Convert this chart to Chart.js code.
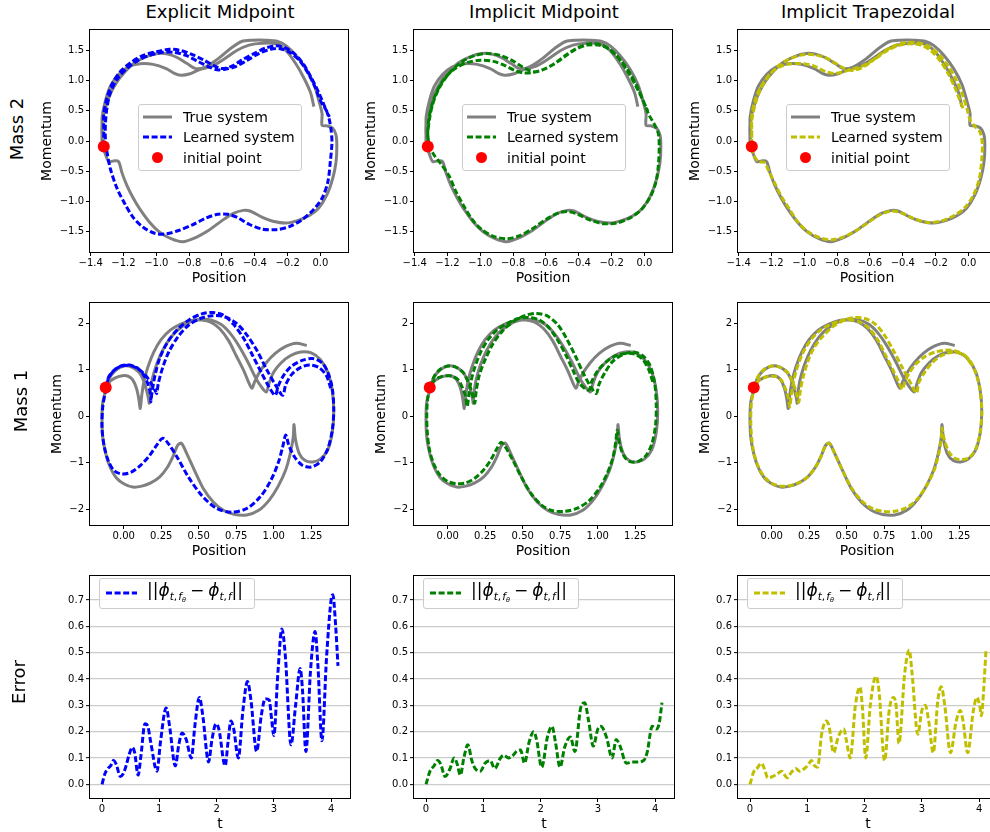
<!DOCTYPE html>
<html><head><meta charset="utf-8">
<script src="https://cdn.jsdelivr.net/npm/chart.js@4.4.0/dist/chart.umd.min.js"></script>
<style>
html,body{margin:0;padding:0;width:990px;height:832px;overflow:hidden;background:#fff;font-family:"DejaVu Sans",sans-serif;color:#000;}
canvas{position:absolute;}
.coltitle{position:absolute;top:3px;font-size:18px;line-height:18px;width:260px;text-align:center;white-space:nowrap;}
.rowlabel{position:absolute;font-size:18px;line-height:18px;white-space:nowrap;transform:translate(-50%,-50%) rotate(-90deg);}
.legend{position:absolute;background:rgba(255,255,255,0.8);border:1px solid #cccccc;border-radius:3px;box-sizing:border-box;font-size:14px;z-index:5;}
.legend .h{position:absolute;left:4px;}
.legend .t{position:absolute;left:44px;line-height:16px;white-space:nowrap;}
.legend .dot{position:absolute;width:11px;height:11px;border-radius:50%;background:#ff0000;}
.m{font-size:17px;}
.m sub{font-size:0.62em;vertical-align:baseline;position:relative;top:0.35em;}
.m .op{padding:0 4px;}
.m .cm{padding-right:1px;}
</style></head>
<body>
<script>
// ---------------- DATA ----------------
const columnTitles = ["Explicit Midpoint", "Implicit Midpoint", "Implicit Trapezoidal"];
const rowLabels = ["Mass 2", "Mass 1", "Error"];
const seriesLabels = ["True system", "Learned system", "initial point"];

const mass2PositionTicks = [-1.4, -1.2, -1.0, -0.8, -0.6, -0.4, -0.2, 0.0];
const mass2MomentumTicks = [-1.5, -1.0, -0.5, 0.0, 0.5, 1.0, 1.5];
const mass1PositionTicks = [0.00, 0.25, 0.50, 0.75, 1.00, 1.25];
const mass1MomentumTicks = [-2, -1, 0, 1, 2];
const timeTicks = [0, 1, 2, 3, 4];
const errorTicks = [0.0, 0.1, 0.2, 0.3, 0.4, 0.5, 0.6, 0.7];

const mass2Initial = [[-1.32, -0.09]];
const mass1Initial = [[-0.12, 0.62]];

const mass2True = [[-1.32,-0.09],[-1.33,0.05],[-1.33,0.30],[-1.31,0.55],[-1.28,0.78],[-1.24,0.98],[-1.19,1.15],[-1.13,1.30],[-1.06,1.40],[-0.99,1.45],[-0.93,1.44],[-0.87,1.38],[-0.81,1.28],[-0.76,1.20],[-0.70,1.23],[-0.62,1.37],[-0.54,1.55],[-0.48,1.65],[-0.415,1.67],[-0.33,1.67],[-0.26,1.65],[-0.21,1.58],[-0.15,1.42],[-0.09,1.20],[-0.04,0.94],[-0.01,0.67],[0.01,0.45],[0.01,0.26],[0.04,0.25],[0.075,0.21],[0.095,0.10],[0.10,-0.09],[0.095,-0.35],[0.075,-0.62],[0.04,-0.89],[-0.01,-1.11],[-0.07,-1.24],[-0.14,-1.32],[-0.21,-1.36],[-0.29,-1.33],[-0.35,-1.27],[-0.43,-1.16],[-0.47,-1.15],[-0.53,-1.20],[-0.60,-1.32],[-0.68,-1.48],[-0.76,-1.60],[-0.84,-1.67],[-0.91,-1.62],[-0.98,-1.51],[-1.04,-1.35],[-1.10,-1.13],[-1.14,-0.95],[-1.18,-0.73],[-1.21,-0.52],[-1.23,-0.34],[-1.26,-0.33],[-1.29,-0.34],[-1.31,-0.22],[-1.33,-0.03],[-1.33,0.18],[-1.33,0.40],[-1.31,0.67],[-1.28,0.91],[-1.23,1.10],[-1.17,1.23],[-1.10,1.28],[-1.02,1.27],[-0.94,1.20],[-0.89,1.12],[-0.85,1.09],[-0.80,1.11],[-0.74,1.18],[-0.66,1.24],[-0.58,1.37],[-0.51,1.50],[-0.435,1.59],[-0.355,1.62],[-0.27,1.61],[-0.21,1.50],[-0.15,1.28],[-0.10,1.04],[-0.06,0.80],[-0.04,0.57]];

const mass2Explicit = [[-1.32,-0.09],[-1.32,0.18],[-1.32,0.45],[-1.30,0.72],[-1.27,0.94],[-1.22,1.15],[-1.15,1.31],[-1.08,1.42],[-1.00,1.48],[-0.92,1.52],[-0.85,1.50],[-0.78,1.43],[-0.71,1.34],[-0.65,1.25],[-0.60,1.20],[-0.54,1.24],[-0.48,1.34],[-0.405,1.45],[-0.335,1.54],[-0.27,1.58],[-0.22,1.55],[-0.16,1.45],[-0.10,1.26],[-0.05,1.02],[-0.01,0.80],[0.02,0.61],[0.05,0.40],[0.065,0.18],[0.07,-0.03],[0.06,-0.35],[0.045,-0.68],[0.01,-0.95],[-0.04,-1.13],[-0.11,-1.30],[-0.19,-1.42],[-0.27,-1.47],[-0.355,-1.46],[-0.435,-1.38],[-0.505,-1.27],[-0.565,-1.215],[-0.625,-1.215],[-0.70,-1.28],[-0.78,-1.39],[-0.86,-1.48],[-0.94,-1.54],[-1.01,-1.53],[-1.08,-1.43],[-1.14,-1.27],[-1.19,-1.05],[-1.24,-0.78],[-1.28,-0.46],[-1.30,-0.19],[-1.31,0.02],[-1.31,0.29],[-1.30,0.56],[-1.28,0.80],[-1.24,1.02],[-1.18,1.20],[-1.11,1.34],[-1.04,1.42],[-0.96,1.47],[-0.89,1.47],[-0.82,1.42],[-0.74,1.31],[-0.68,1.23],[-0.63,1.18],[-0.58,1.19],[-0.52,1.23],[-0.445,1.34],[-0.375,1.45],[-0.305,1.52],[-0.245,1.53],[-0.18,1.46],[-0.12,1.31],[-0.07,1.10],[-0.03,0.88],[0.0,0.67],[0.035,0.51],[0.055,0.40]];

const mass2ImplicitMid = [[-1.32,-0.09],[-1.32,0.12],[-1.31,0.36],[-1.29,0.61],[-1.25,0.88],[-1.19,1.12],[-1.12,1.30],[-1.04,1.41],[-0.96,1.45],[-0.88,1.42],[-0.81,1.34],[-0.75,1.24],[-0.70,1.17],[-0.66,1.15],[-0.61,1.19],[-0.55,1.28],[-0.48,1.42],[-0.41,1.54],[-0.34,1.61],[-0.27,1.60],[-0.21,1.52],[-0.15,1.36],[-0.09,1.13],[-0.04,0.88],[0.0,0.62],[0.03,0.42],[0.06,0.28],[0.085,0.12],[0.09,-0.10],[0.085,-0.40],[0.07,-0.68],[0.035,-0.93],[-0.02,-1.14],[-0.09,-1.28],[-0.17,-1.36],[-0.25,-1.37],[-0.33,-1.31],[-0.41,-1.21],[-0.47,-1.17],[-0.53,-1.20],[-0.60,-1.30],[-0.68,-1.45],[-0.76,-1.57],[-0.84,-1.62],[-0.92,-1.58],[-0.99,-1.47],[-1.05,-1.30],[-1.10,-1.08],[-1.15,-0.83],[-1.19,-0.58],[-1.24,-0.38],[-1.28,-0.24],[-1.31,-0.08],[-1.32,0.15],[-1.31,0.42],[-1.28,0.72],[-1.23,0.99],[-1.16,1.19],[-1.08,1.30],[-1.00,1.34],[-0.92,1.32],[-0.85,1.25],[-0.79,1.17],[-0.74,1.13],[-0.69,1.13],[-0.63,1.17],[-0.56,1.26],[-0.49,1.39],[-0.42,1.52],[-0.35,1.59],[-0.28,1.59],[-0.22,1.53],[-0.16,1.38],[-0.10,1.14],[-0.05,0.90],[-0.01,0.68],[0.02,0.50]];

const mass2ImplicitTrap = [[-1.32,-0.09],[-1.32,0.10],[-1.32,0.34],[-1.30,0.60],[-1.27,0.84],[-1.22,1.06],[-1.16,1.24],[-1.09,1.36],[-1.01,1.43],[-0.94,1.43],[-0.87,1.38],[-0.81,1.29],[-0.76,1.21],[-0.71,1.17],[-0.66,1.20],[-0.60,1.30],[-0.53,1.45],[-0.46,1.57],[-0.39,1.63],[-0.32,1.63],[-0.25,1.58],[-0.19,1.46],[-0.13,1.27],[-0.08,1.04],[-0.04,0.80],[-0.01,0.55],[0.01,0.35],[0.04,0.24],[0.07,0.15],[0.085,-0.05],[0.08,-0.35],[0.065,-0.64],[0.03,-0.90],[-0.02,-1.10],[-0.09,-1.24],[-0.17,-1.33],[-0.25,-1.35],[-0.33,-1.29],[-0.41,-1.19],[-0.47,-1.16],[-0.53,-1.21],[-0.60,-1.33],[-0.68,-1.48],[-0.76,-1.59],[-0.84,-1.64],[-0.91,-1.60],[-0.98,-1.50],[-1.04,-1.34],[-1.09,-1.13],[-1.14,-0.92],[-1.18,-0.70],[-1.22,-0.48],[-1.24,-0.36],[-1.28,-0.34],[-1.31,-0.22],[-1.32,-0.05],[-1.32,0.18],[-1.32,0.42],[-1.30,0.68],[-1.26,0.92],[-1.21,1.11],[-1.15,1.23],[-1.08,1.28],[-1.00,1.28],[-0.93,1.23],[-0.87,1.15],[-0.82,1.12],[-0.77,1.14],[-0.71,1.19],[-0.64,1.25],[-0.57,1.36],[-0.50,1.49],[-0.43,1.58],[-0.36,1.61],[-0.29,1.59],[-0.23,1.50],[-0.17,1.32],[-0.12,1.10],[-0.08,0.87],[-0.05,0.66],[-0.03,0.52]];

const mass1True = [[-0.12,0.62],[-0.09,0.85],[-0.05,1.00],[0.00,1.08],[0.05,1.06],[0.10,0.95],[0.13,0.78],[0.15,0.58],[0.165,0.38],[0.17,0.28],[0.175,0.50],[0.19,0.80],[0.22,1.12],[0.26,1.42],[0.31,1.68],[0.37,1.88],[0.44,2.02],[0.51,2.08],[0.58,2.07],[0.65,1.97],[0.71,1.78],[0.77,1.50],[0.83,1.15],[0.88,0.82],[0.92,0.62],[0.95,0.52],[0.97,0.72],[1.00,0.95],[1.05,1.15],[1.11,1.30],[1.18,1.38],[1.25,1.36],[1.31,1.22],[1.36,0.95],[1.39,0.55],[1.40,0.10],[1.39,-0.35],[1.36,-0.72],[1.31,-0.92],[1.26,-0.98],[1.21,-0.95],[1.17,-0.80],[1.145,-0.50],[1.135,-0.18],[1.13,-0.45],[1.11,-0.80],[1.08,-1.15],[1.03,-1.50],[0.97,-1.80],[0.90,-2.02],[0.82,-2.12],[0.74,-2.11],[0.67,-2.03],[0.60,-1.85],[0.53,-1.55],[0.47,-1.15],[0.42,-0.80],[0.385,-0.58],[0.36,-0.62],[0.33,-0.85],[0.29,-1.10],[0.24,-1.30],[0.18,-1.43],[0.12,-1.50],[0.06,-1.52],[0.00,-1.45],[-0.05,-1.32],[-0.09,-1.10],[-0.12,-0.80],[-0.14,-0.45],[-0.145,-0.05],[-0.14,0.30],[-0.12,0.55],[-0.10,0.72],[-0.06,0.82],[-0.01,0.87],[0.03,0.86],[0.06,0.78],[0.085,0.60],[0.10,0.38],[0.11,0.17],[0.12,0.45],[0.135,0.75],[0.16,1.05],[0.20,1.38],[0.25,1.65],[0.31,1.85],[0.38,1.98],[0.45,2.06],[0.52,2.07],[0.58,2.02],[0.64,1.88],[0.70,1.62],[0.75,1.30],[0.80,0.98],[0.83,0.75],[0.855,0.60],[0.87,0.72],[0.90,0.92],[0.95,1.15],[1.01,1.35],[1.08,1.50],[1.15,1.57],[1.22,1.52]];

const mass1Explicit = [[-0.12,0.62],[-0.10,0.85],[-0.06,1.00],[-0.01,1.09],[0.04,1.10],[0.09,1.04],[0.13,0.90],[0.16,0.70],[0.18,0.45],[0.18,0.31],[0.19,0.55],[0.21,0.90],[0.24,1.25],[0.29,1.58],[0.36,1.87],[0.44,2.08],[0.52,2.20],[0.59,2.23],[0.66,2.18],[0.73,1.98],[0.80,1.67],[0.86,1.30],[0.92,0.92],[0.97,0.62],[1.01,0.45],[1.03,0.65],[1.07,0.90],[1.12,1.08],[1.19,1.20],[1.26,1.24],[1.32,1.15],[1.36,0.95],[1.39,0.60],[1.40,0.15],[1.39,-0.30],[1.36,-0.70],[1.31,-0.98],[1.25,-1.09],[1.19,-1.05],[1.14,-0.88],[1.10,-0.62],[1.08,-0.40],[1.06,-0.65],[1.03,-1.00],[0.98,-1.38],[0.91,-1.73],[0.82,-1.98],[0.72,-2.06],[0.62,-1.98],[0.52,-1.70],[0.43,-1.30],[0.36,-0.90],[0.30,-0.60],[0.26,-0.47],[0.22,-0.62],[0.17,-0.85],[0.11,-1.06],[0.05,-1.20],[-0.01,-1.24],[-0.06,-1.18],[-0.10,-0.98],[-0.13,-0.65],[-0.145,-0.25],[-0.14,0.20],[-0.12,0.55],[-0.10,0.83],[-0.06,1.00],[-0.01,1.08],[0.04,1.09],[0.09,1.03],[0.14,0.90],[0.18,0.72],[0.21,0.55],[0.22,0.49],[0.23,0.70],[0.26,1.05],[0.30,1.38],[0.36,1.70],[0.43,1.95],[0.51,2.10],[0.59,2.16],[0.67,2.14],[0.75,2.00],[0.82,1.75],[0.89,1.40],[0.95,1.02],[1.01,0.68],[1.06,0.45],[1.08,0.68],[1.12,0.90],[1.18,1.05],[1.24,1.10],[1.30,1.05],[1.35,0.88],[1.38,0.60]];

const mass1ImplicitMid = [[-0.12,0.62],[-0.09,0.86],[-0.05,1.01],[0.00,1.08],[0.05,1.06],[0.10,0.95],[0.13,0.78],[0.155,0.58],[0.17,0.40],[0.18,0.28],[0.19,0.55],[0.21,0.88],[0.25,1.22],[0.30,1.55],[0.37,1.85],[0.45,2.06],[0.52,2.17],[0.59,2.21],[0.66,2.16],[0.73,1.98],[0.79,1.68],[0.85,1.30],[0.90,0.95],[0.95,0.65],[0.99,0.49],[1.01,0.70],[1.05,0.95],[1.10,1.18],[1.17,1.33],[1.24,1.38],[1.30,1.30],[1.35,1.08],[1.38,0.70],[1.39,0.25],[1.385,-0.20],[1.36,-0.60],[1.32,-0.85],[1.27,-0.97],[1.22,-0.98],[1.18,-0.88],[1.15,-0.65],[1.13,-0.30],[1.12,-0.55],[1.10,-0.90],[1.06,-1.25],[1.01,-1.55],[0.94,-1.82],[0.86,-1.98],[0.78,-2.04],[0.70,-2.03],[0.63,-1.92],[0.56,-1.68],[0.49,-1.30],[0.43,-0.92],[0.38,-0.64],[0.355,-0.56],[0.33,-0.68],[0.29,-0.92],[0.24,-1.15],[0.18,-1.33],[0.12,-1.43],[0.06,-1.45],[0.00,-1.40],[-0.05,-1.27],[-0.09,-1.05],[-0.12,-0.75],[-0.135,-0.40],[-0.14,0.0],[-0.135,0.35],[-0.12,0.58],[-0.10,0.73],[-0.06,0.83],[-0.01,0.87],[0.03,0.86],[0.07,0.78],[0.10,0.60],[0.12,0.40],[0.13,0.21],[0.14,0.45],[0.155,0.75],[0.18,1.05],[0.22,1.38],[0.27,1.65],[0.33,1.86],[0.40,2.00],[0.47,2.10],[0.54,2.12],[0.61,2.07],[0.67,1.92],[0.73,1.65],[0.79,1.30],[0.84,0.95],[0.88,0.70],[0.94,0.56],[0.96,0.75],[1.00,0.98],[1.06,1.18],[1.12,1.30],[1.19,1.35],[1.25,1.33],[1.30,1.22],[1.34,1.00],[1.37,0.70]];

const mass1ImplicitTrap = [[-0.12,0.62],[-0.09,0.86],[-0.05,1.01],[0.00,1.08],[0.05,1.06],[0.10,0.96],[0.13,0.80],[0.155,0.60],[0.17,0.42],[0.18,0.30],[0.19,0.55],[0.21,0.85],[0.24,1.17],[0.28,1.46],[0.34,1.72],[0.41,1.93],[0.48,2.06],[0.55,2.12],[0.62,2.10],[0.69,1.98],[0.75,1.75],[0.81,1.42],[0.87,1.05],[0.92,0.75],[0.965,0.50],[0.98,0.72],[1.02,0.95],[1.07,1.15],[1.13,1.30],[1.20,1.37],[1.27,1.34],[1.32,1.20],[1.36,0.93],[1.39,0.55],[1.40,0.10],[1.39,-0.35],[1.36,-0.70],[1.32,-0.88],[1.27,-0.93],[1.22,-0.90],[1.18,-0.76],[1.15,-0.50],[1.135,-0.25],[1.13,-0.50],[1.11,-0.85],[1.08,-1.18],[1.03,-1.50],[0.97,-1.78],[0.90,-1.96],[0.82,-2.04],[0.74,-2.04],[0.67,-1.98],[0.60,-1.82],[0.53,-1.53],[0.47,-1.15],[0.42,-0.80],[0.385,-0.58],[0.36,-0.62],[0.33,-0.85],[0.29,-1.10],[0.24,-1.30],[0.18,-1.43],[0.12,-1.49],[0.06,-1.50],[0.00,-1.44],[-0.05,-1.30],[-0.09,-1.08],[-0.12,-0.78],[-0.135,-0.43],[-0.14,-0.05],[-0.135,0.30],[-0.12,0.55],[-0.10,0.72],[-0.06,0.82],[-0.01,0.86],[0.03,0.85],[0.065,0.77],[0.09,0.60],[0.11,0.40],[0.12,0.20],[0.13,0.45],[0.145,0.75],[0.17,1.05],[0.21,1.38],[0.26,1.64],[0.32,1.84],[0.39,1.97],[0.46,2.05],[0.53,2.07],[0.59,2.02],[0.65,1.88],[0.71,1.62],[0.76,1.30],[0.81,0.98],[0.845,0.75],[0.87,0.58],[0.885,0.72],[0.915,0.92],[0.96,1.12],[1.02,1.28],[1.09,1.38],[1.16,1.42],[1.23,1.40],[1.29,1.30],[1.33,1.12]];

const errorExplicit = [[0,0],[0.05,0.04],[0.1,0.06],[0.15,0.07],[0.2,0.09],[0.25,0.075],[0.32,0.03],[0.37,0.04],[0.42,0.07],[0.47,0.11],[0.53,0.14],[0.57,0.12],[0.63,0.035],[0.68,0.11],[0.75,0.23],[0.8,0.22],[0.85,0.16],[0.96,0.05],[1.02,0.16],[1.12,0.29],[1.18,0.22],[1.28,0.07],[1.34,0.15],[1.4,0.195],[1.47,0.17],[1.56,0.10],[1.62,0.22],[1.7,0.33],[1.76,0.26],[1.86,0.085],[1.92,0.17],[1.99,0.23],[2.04,0.21],[2.15,0.07],[2.2,0.16],[2.25,0.24],[2.3,0.21],[2.38,0.10],[2.46,0.28],[2.54,0.39],[2.6,0.32],[2.7,0.125],[2.78,0.26],[2.85,0.325],[2.92,0.32],[2.96,0.25],[3.0,0.185],[3.07,0.42],[3.14,0.59],[3.2,0.49],[3.3,0.15],[3.38,0.30],[3.46,0.44],[3.5,0.36],[3.56,0.125],[3.64,0.43],[3.72,0.58],[3.77,0.45],[3.84,0.165],[3.92,0.48],[4.0,0.70],[4.03,0.72],[4.08,0.6],[4.12,0.45]];

const errorImplicitMid = [[0,0],[0.07,0.05],[0.14,0.07],[0.2,0.09],[0.26,0.075],[0.33,0.03],[0.42,0.06],[0.49,0.10],[0.54,0.08],[0.6,0.035],[0.66,0.10],[0.73,0.15],[0.8,0.09],[0.86,0.06],[0.95,0.05],[1.03,0.08],[1.12,0.09],[1.2,0.06],[1.3,0.10],[1.36,0.11],[1.44,0.10],[1.52,0.11],[1.58,0.125],[1.65,0.13],[1.72,0.08],[1.8,0.16],[1.88,0.20],[1.93,0.17],[2.02,0.065],[2.12,0.18],[2.2,0.22],[2.26,0.16],[2.34,0.065],[2.42,0.14],[2.52,0.18],[2.6,0.125],[2.7,0.29],[2.77,0.31],[2.84,0.24],[2.92,0.145],[3.0,0.21],[3.05,0.22],[3.15,0.18],[3.25,0.10],[3.32,0.17],[3.38,0.15],[3.5,0.08],[3.6,0.085],[3.7,0.085],[3.8,0.09],[3.86,0.12],[3.95,0.22],[4.02,0.21],[4.07,0.23],[4.12,0.31]];

const errorImplicitTrap = [[0,0],[0.06,0.045],[0.12,0.06],[0.2,0.08],[0.25,0.06],[0.31,0.025],[0.4,0.03],[0.48,0.04],[0.55,0.05],[0.65,0.025],[0.72,0.045],[0.8,0.06],[0.86,0.05],[0.95,0.06],[1.02,0.075],[1.07,0.09],[1.13,0.07],[1.18,0.065],[1.25,0.19],[1.33,0.24],[1.38,0.22],[1.46,0.12],[1.54,0.18],[1.64,0.21],[1.68,0.17],[1.75,0.10],[1.84,0.30],[1.92,0.37],[1.96,0.30],[2.02,0.10],[2.1,0.30],[2.2,0.41],[2.25,0.36],[2.35,0.09],[2.43,0.28],[2.5,0.33],[2.55,0.30],[2.6,0.155],[2.7,0.42],[2.78,0.51],[2.83,0.42],[2.93,0.19],[3.0,0.28],[3.06,0.30],[3.12,0.24],[3.2,0.12],[3.28,0.32],[3.34,0.37],[3.4,0.30],[3.5,0.12],[3.6,0.24],[3.67,0.28],[3.72,0.24],[3.8,0.12],[3.9,0.28],[3.96,0.33],[4.01,0.30],[4.04,0.26],[4.08,0.36],[4.12,0.51]];

// ---------------- STYLE / LAYOUT ----------------
const methodColors = ['#0000ff', '#008000', '#bfbf00'];
const trueColor = '#808080';
const DASH = [6, 2.6];
const COLS = [90, 414, 738], ROWS = [24, 297, 570];
const W = 260, H = 228, YW = 62, XH = 44, PT = 2, PR = 4;

function tickFmt(dec) {
  return (v) => { const s = Math.abs(v).toFixed(dec); return (v < 0 && Number(s) !== 0 ? '\u2212' : '') + s; };
}
function scaleOpts(o) {
  return {
    type: 'linear', min: o.min, max: o.max,
    afterBuildTicks: a => { a.ticks = o.ticks.map(v => ({ value: v })); },
    afterFit: a => { if (o.x) a.height = XH; else a.width = YW; },
    ticks: { callback: tickFmt(o.dec), font: { family: 'DejaVu Sans', size: 10 }, color: '#000',
             padding: o.x ? 1 : 2, maxRotation: 0, minRotation: 0, autoSkip: false },
    grid: { drawOnChartArea: !!o.grid, drawTicks: true, tickLength: 4, tickColor: '#000', tickWidth: 1,
            color: o.grid ? '#cccccc' : 'rgba(0,0,0,0)', lineWidth: o.grid ? 1.3 : 1 },
    border: { display: false },
    title: o.title ? { display: true, text: o.title, font: { family: 'DejaVu Sans', size: 14 }, color: '#000',
                       padding: o.x ? { top: 0, bottom: 9.6 } : { top: o.tp, bottom: 0 } } : { display: false }
  };
}
const framePlugin = {
  id: 'frame',
  afterDatasetsDraw(chart) {
    const { ctx, chartArea: a } = chart;
    ctx.save(); ctx.strokeStyle = '#000'; ctx.lineWidth = 1;
    ctx.strokeRect(Math.round(a.left) - 0.5, Math.round(a.top) - 0.5, Math.round(a.right - a.left) + 1, Math.round(a.bottom - a.top) + 1);
    ctx.restore();
  }
};
function lineDs(label, data, color, dashed, order, monotone) {
  const d = { label, data, showLine: true, borderColor: color, backgroundColor: color, borderWidth: 3,
    borderDash: dashed ? DASH : [], pointRadius: 0, pointHoverRadius: 0, pointHitRadius: 0,
    borderJoinStyle: 'round', borderCapStyle: 'butt', order };
  if (monotone) d.cubicInterpolationMode = 'monotone'; else d.tension = 0.3;
  return d;
}
function pointDs(label, data) {
  return { label, data, showLine: false, pointRadius: 6, pointHoverRadius: 6, backgroundColor: '#ff0000',
           borderWidth: 0, pointBorderWidth: 0, order: 0 };
}
function makePanel(left, top, datasets, xs, ys) {
  const c = document.createElement('canvas');
  const cw = YW + W + PR, ch = PT + H + XH;
  c.width = cw; c.height = ch;
  c.style.left = (left - YW) + 'px'; c.style.top = (top - PT) + 'px';
  c.style.width = cw + 'px'; c.style.height = ch + 'px';
  document.body.appendChild(c);
  new Chart(c.getContext('2d'), {
    type: 'scatter',
    data: { datasets },
    options: {
      responsive: false, animation: false, devicePixelRatio: 1, events: [],
      layout: { padding: { left: 0, top: PT, right: PR, bottom: 0 } },
      plugins: { legend: { display: false }, tooltip: { enabled: false }, title: { display: false } },
      scales: { x: scaleOpts(xs), y: scaleOpts(ys) }
    },
    plugins: [framePlugin]
  });
}

const mass2Learned = [mass2Explicit, mass2ImplicitMid, mass2ImplicitTrap];
const mass1Learned = [mass1Explicit, mass1ImplicitMid, mass1ImplicitTrap];
const errors = [errorExplicit, errorImplicitMid, errorImplicitTrap];

for (let j = 0; j < 3; j++) {
  makePanel(COLS[j], ROWS[0], [
      pointDs(seriesLabels[2], mass2Initial),
      lineDs(seriesLabels[1], mass2Learned[j], methodColors[j], true, 1),
      lineDs(seriesLabels[0], mass2True, trueColor, false, 2)],
    { x: true, min: -1.404, max: 0.168, ticks: mass2PositionTicks, dec: 1, title: 'Position' },
    { min: -1.84, max: 1.84, ticks: mass2MomentumTicks, dec: 1, title: 'Momentum', tp: 11.1 });
  makePanel(COLS[j], ROWS[1], [
      pointDs(seriesLabels[2], mass1Initial),
      lineDs(seriesLabels[1], mass1Learned[j], methodColors[j], true, 1),
      lineDs(seriesLabels[0], mass1True, trueColor, false, 2)],
    { x: true, min: -0.225, max: 1.495, ticks: mass1PositionTicks, dec: 2, title: 'Position' },
    { min: -2.335, max: 2.433, ticks: mass1MomentumTicks, dec: 0, title: 'Momentum', tp: 20.6 });
  makePanel(COLS[j], ROWS[2], [
      lineDs('error', errors[j], methodColors[j], true, 1, true)],
    { x: true, min: -0.21, max: 4.33, ticks: timeTicks, dec: 0, title: 't' },
    { min: -0.052, max: 0.791, ticks: errorTicks, dec: 1, grid: true });
}

// ---------------- TEXT: titles, row labels, legends ----------------
columnTitles.forEach((t, j) => {
  const d = document.createElement('div'); d.className = 'coltitle';
  d.style.left = COLS[j] + 'px'; d.textContent = t; document.body.appendChild(d);
});
[[16.5, 129], [20.5, 401], [18.5, 682]].forEach((p, i) => {
  const d = document.createElement('div'); d.className = 'rowlabel';
  d.style.left = p[0] + 'px'; d.style.top = p[1] + 'px'; d.textContent = rowLabels[i];
  document.body.appendChild(d);
});
function svgLine(top, w, color, dashed) {
  return `<svg class="h" style="top:${top}px" width="${w}" height="6"><line x1="0" y1="3" x2="${w}" y2="3" stroke="${color}" stroke-width="3"${dashed ? ` stroke-dasharray="${DASH.join(' ')}"` : ''}/></svg>`;
}
for (let j = 0; j < 3; j++) {
  const d = document.createElement('div'); d.className = 'legend';
  d.style.cssText = `left:${COLS[j] + 48}px;top:${ROWS[0] + 80}px;width:164px;height:67px;`;
  d.innerHTML = svgLine(9, 29, trueColor, false) + `<div class="t" style="top:4px">${seriesLabels[0]}</div>` +
    svgLine(29, 29, methodColors[j], true) + `<div class="t" style="top:24px">${seriesLabels[1]}</div>` +
    `<div class="dot" style="left:13px;top:47px"></div><div class="t" style="top:45px">${seriesLabels[2]}</div>`;
  document.body.appendChild(d);

  const e = document.createElement('div'); e.className = 'legend';
  e.style.cssText = `left:${COLS[j] + 9}px;top:${ROWS[2] + 8}px;width:156px;height:31px;`;
  e.innerHTML = `<svg class="h" style="top:11px;left:6px" width="31" height="6"><line x1="0" y1="3" x2="31" y2="3" stroke="${methodColors[j]}" stroke-width="3" stroke-dasharray="${DASH.join(' ')}"/></svg>` +
    `<div class="t m" style="left:47px;top:3px">||<i>ϕ</i><sub><i>t</i><span class="cm">,</span><i>f</i><sub><i>θ</i></sub></sub><span class="op">−</span><i>ϕ</i><sub><i>t</i><span class="cm">,</span><i>f</i></sub>||</div>`;
  document.body.appendChild(e);
}
</script>
</body></html>
